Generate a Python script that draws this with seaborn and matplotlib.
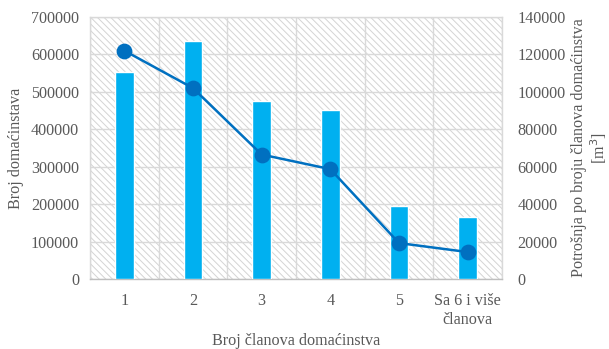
import numpy as np
import pandas as pd
import matplotlib
matplotlib.use("Agg")
import matplotlib.pyplot as plt
from matplotlib.patches import Rectangle
import seaborn as sns

# Household size categories
categories = ["1", "2", "3", "4", "5", "Sa 6 i više\nčlanova"]
# Number of households (left axis)
households = [553000, 637000, 476000, 452000, 195000, 165000]
# Consumption by household size in m³ (right axis)
consumption = [122000, 102000, 66500, 58700, 19200, 14400]

sns.set_theme(style="white")
plt.rcParams["font.family"] = ["Liberation Serif", "DejaVu Serif"]
plt.rcParams["hatch.linewidth"] = 0.7

FS = 11.6
TEXT = "#595959"
GRID = "#D9D9D9"
BAR = "#00B0F0"
LINE = "#0070C0"

df = pd.DataFrame({"cat": categories, "hh": households, "cons": consumption})

fig = plt.figure(figsize=(6.09, 3.49), dpi=100)
ax = fig.add_axes([90 / 609, 1 - 279 / 349, 412 / 609, 262 / 349])

# hatched plot-area background
bg = Rectangle((0, 0), 1, 1, transform=ax.transAxes, facecolor="white",
               edgecolor="#D4D4D4", hatch="\\\\\\\\\\", linewidth=0, zorder=0)
ax.add_patch(bg)

sns.barplot(data=df, x="cat", y="hh", color=BAR, width=0.27, saturation=1,
            ax=ax, zorder=3)

ax.set_ylim(0, 700000)
ax.set_yticks(np.arange(0, 700001, 100000))
ax.set_xlim(-0.5, len(categories) - 0.5)
ax.set_xticks(range(len(categories)))
ax.set_xticklabels(categories, linespacing=1.25)
ax.set_xticks(np.arange(-0.5, len(categories)), minor=True)
ax.grid(axis="y", which="major", color=GRID, linewidth=1, zorder=1)
ax.grid(axis="x", which="minor", color=GRID, linewidth=1, zorder=1)
ax.grid(axis="x", which="major", visible=False)
ax.set_axisbelow(True)

ax.tick_params(axis="both", which="both", length=0, labelsize=FS, labelcolor=TEXT)
ax.tick_params(axis="y", pad=8)
ax.tick_params(axis="x", pad=10)
ax.set_ylabel("Broj domaćinstava", fontsize=FS, color=TEXT, labelpad=5)
ax.set_xlabel("")
fig.text((90 + 502) / 2 / 609, 4 / 349, "Broj članova domaćinstva",
         fontsize=FS, color=TEXT, ha="center", va="baseline")
for s in ax.spines.values():
    s.set_color(GRID)
    s.set_linewidth(1)
ax.spines["bottom"].set_color("#BFBFBF")

ax2 = ax.twinx()
sns.pointplot(data=df, x="cat", y="cons", color=LINE, markers="o",
              markersize=10, linewidth=1.8, ax=ax2)
ax2.set_ylim(0, 140000)
ax2.set_yticks(np.arange(0, 140001, 20000))
ax2.set_xlim(-0.5, len(categories) - 0.5)
ax2.grid(False)
ax2.tick_params(axis="y", length=0, labelsize=FS, labelcolor=TEXT, pad=11)
ax2.set_ylabel("Potrošnja po broju članova domaćinstva\n[m$^3$]",
               fontsize=FS, color=TEXT, labelpad=4, linespacing=1.05)
for s in ax2.spines.values():
    s.set_visible(False)

fig.savefig("out.png", dpi=100)
